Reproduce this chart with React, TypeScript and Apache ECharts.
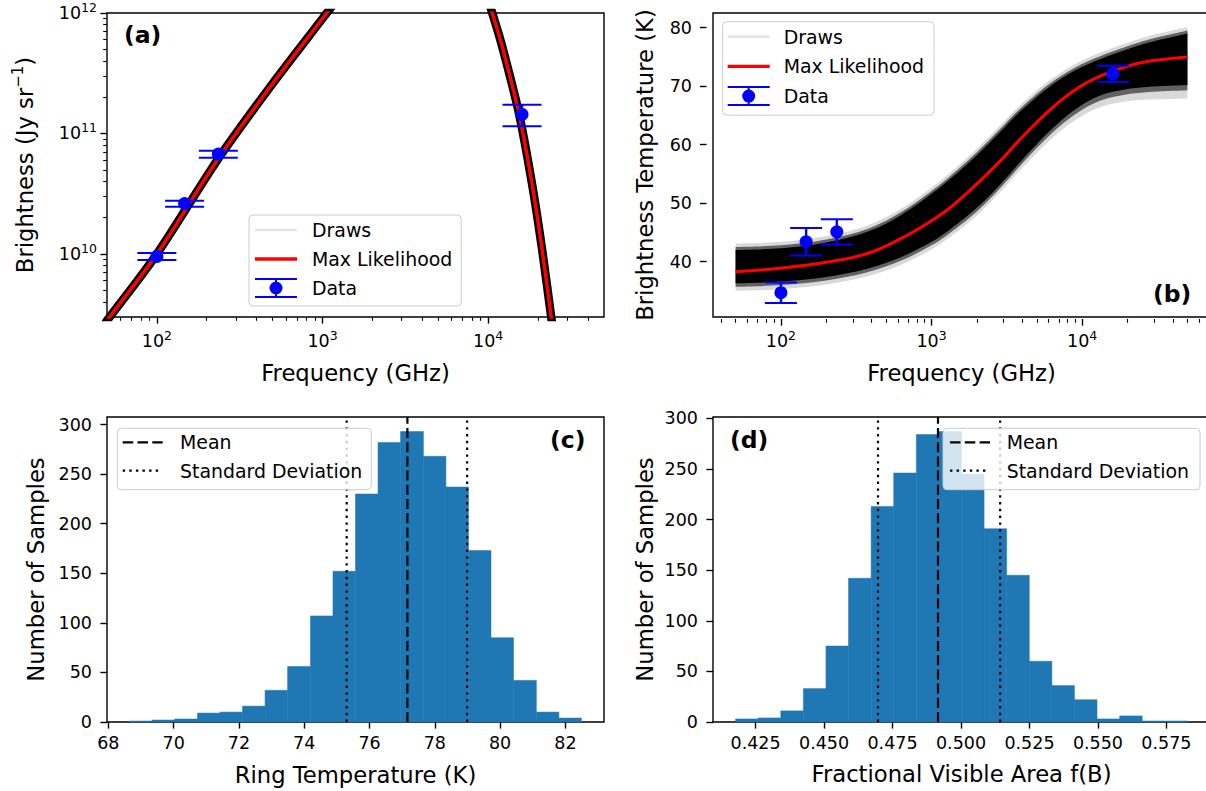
import React, { useEffect, useRef } from "react";
import * as echarts from "echarts";

const FONT = '"DejaVu Sans", "Noto Sans", sans-serif';
const INK = "#000000";
const HIST_BLUE = "#1f77b4";
const DATA_BLUE = "#0000ff";
const ML_RED = "#ff0000";

// ---------- Observations shown in panels (a) and (b) ----------
const obsFreq = [100, 147, 235, 16000];
const obsBrightness = [9.55e9, 2.62e10, 6.75e10, 1.44e11];
const obsBrightnessErr = [6.5e8, 1.5e9, 4.5e9, 2.9e10];
const obsTemp = [34.7, 43.4, 45.1, 72.1];
const obsTempErr = [1.75, 2.35, 2.15, 1.4];

// ---------- (a) max-likelihood spectrum ----------
const mlFreqRise = [45, 50, 100, 235, 500, 1000, 1200];
const mlBrightRise = [2.3e9, 2.8e9, 1.0e10, 6.2e10, 2.6e11, 9.0e11, 1.25e12];
const mlFreqFall = [10000, 10420, 11640, 13000, 15380, 18400, 21000, 24000, 25500];
const mlBrightFall = [1.3e12, 1.07e12, 6.5e11, 3.7e11, 1.44e11, 3.8e10, 1.17e10, 3.0e9, 1.6e9];

// ---------- (b) brightness temperature: max likelihood and spread of draws ----------
const tbFreq = [50, 100, 200, 375, 630, 1000, 1340, 2000, 2860, 4000, 6140, 9000, 13150, 20000, 28200, 50000];
const tbMaxLike = [38.3, 38.9, 39.9, 41.4, 44.0, 47.0, 49.3, 53.3, 57.2, 61.3, 66.0, 69.4, 71.7, 73.4, 74.3, 75.0];
const tbDrawsUpper = [42.0, 42.3, 43.3, 45.1, 48.0, 51.6, 54.2, 58.2, 62.2, 66.0, 70.0, 72.7, 74.6, 76.3, 77.5, 79.0];
const tbDrawsLower = [36.3, 36.6, 37.4, 38.8, 40.8, 43.4, 45.6, 49.2, 53.2, 57.4, 62.4, 66.0, 68.4, 69.5, 69.9, 70.2];
const tbHaloUpper = [42.5, 42.8, 43.8, 45.6, 48.5, 52.1, 54.7, 58.7, 62.7, 66.5, 70.5, 73.2, 75.1, 76.8, 78.0, 79.5];
const tbHaloLower = [35.7, 36.0, 36.8, 38.2, 40.2, 42.8, 45.0, 48.6, 52.6, 56.8, 61.7, 65.2, 67.5, 68.6, 69.0, 69.3];
const tbFaintUpper = [43.1, 43.4, 44.4, 46.2, 49.1, 52.7, 55.3, 59.3, 63.3, 67.1, 71.1, 73.8, 75.7, 77.4, 78.6, 80.1];
const tbFaintLower = [35.0, 35.3, 36.1, 37.5, 39.5, 42.1, 44.3, 47.9, 51.9, 56.0, 60.8, 64.2, 66.4, 67.4, 67.7, 67.9];

// ---------- tick values ----------
const freqMajorTicks = [100, 1000, 10000];
const freqMinorTicksA = [60, 70, 80, 90, 200, 300, 400, 500, 600, 700, 800, 900, 2000, 3000, 4000, 5000, 6000, 7000, 8000, 9000, 20000, 30000, 40000];
const freqMinorTicksB = [40, 50, 60, 70, 80, 90, 200, 300, 400, 500, 600, 700, 800, 900, 2000, 3000, 4000, 5000, 6000, 7000, 8000, 9000, 20000, 30000, 40000, 50000, 60000];
const brightMajorTicks = [1e10, 1e11, 1e12];
const brightMinorTicks = [4e9, 5e9, 6e9, 7e9, 8e9, 9e9, 2e10, 3e10, 4e10, 5e10, 6e10, 7e10, 8e10, 9e10, 2e11, 3e11, 4e11, 5e11, 6e11, 7e11, 8e11, 9e11];
const tempTicks = [40, 50, 60, 70, 80];
const countTicks = [0, 50, 100, 150, 200, 250, 300];

// ---------- (c) ring temperature histogram ----------
const ringTempEdges = [68.65, 69.34, 70.03, 70.73, 71.42, 72.11, 72.8, 73.49, 74.19, 74.88, 75.57, 76.26, 76.95, 77.65, 78.34, 79.03, 79.72, 80.41, 81.11, 81.8, 82.49];
const ringTempCounts = [1, 2, 3, 9, 10, 16, 32, 56, 107, 152, 230, 282, 293, 268, 237, 173, 85, 42, 10, 4];
const ringTempMean = 77.16;
const ringTempStdLines = [75.3, 78.99];
const ringTempTicks = [68, 70, 72, 74, 76, 78, 80, 82];

// ---------- (d) fractional visible area histogram ----------
const areaEdges = [0.4177, 0.42595, 0.4342, 0.44244, 0.45069, 0.45894, 0.46719, 0.47544, 0.48369, 0.49193, 0.50018, 0.50843, 0.51668, 0.52493, 0.53318, 0.54142, 0.54967, 0.55792, 0.56617, 0.57442, 0.58267];
const areaCounts = [3, 4, 11, 33, 75, 142, 213, 246, 284, 287, 245, 191, 145, 60, 36, 22, 3, 6, 1, 1];
const areaMean = 0.4916;
const areaStdLines = [0.4697, 0.5143];
const areaTicks = [0.425, 0.45, 0.475, 0.5, 0.525, 0.55, 0.575];

// ---------- legend icons (bounding box = itemWidth x itemHeight) ----------
const DATA_ICON =
  "path://M0,0H42V2H0Z M0,18H42V20H0Z M20,0H22V20H20Z M27.5,10A6.5,6.5,0,1,1,14.5,10A6.5,6.5,0,1,1,27.5,10Z";
const ML_ICON = "path://M0,0M42,20M0,8.35H42V11.65H0Z";
const DRAWS_ICON = "path://M0,0M42,20M0,8.75H42V11.25H0Z";
const MEAN_ICON = "path://M0,0M40,14M0,5.9H10.5V8.1H0Z M14.8,5.9H25.3V8.1H14.8Z M29.6,5.9H40V8.1H29.6Z";
const STD_ICON =
  "path://M0,0M40,14M0,5.9H2.4V8.1H0Z M6.6,5.9H9V8.1H6.6Z M13.2,5.9H15.6V8.1H13.2Z M19.8,5.9H22.2V8.1H19.8Z M26.4,5.9H28.8V8.1H26.4Z M33,5.9H35.4V8.1H33Z";

const powLabel = (v: number) => `10{sup|${Math.round(Math.log10(v))}}`;
const supRich = {
  sup: { fontSize: 12.5, lineHeight: 13, verticalAlign: "top", fontFamily: FONT, color: INK },
};
const nameStyle = { fontSize: 22.7, fontFamily: FONT, color: INK };
const tickLabel = { fontSize: 17.5, fontFamily: FONT, color: INK };
const majorTick = (values: number[]) => ({
  show: true,
  customValues: values,
  length: 6.6,
  lineStyle: { color: INK, width: 1.4 },
});
const minorTick = (values: number[]) => ({
  show: true,
  customValues: values,
  length: 3.8,
  lineStyle: { color: INK, width: 1.1 },
});
const hidden = { show: false };

// Catmull-Rom through pixel points (points come from the axes via api.coord)
function smoothThrough(pts: number[][], move: boolean) {
  let d = move ? `M${pts[0][0]},${pts[0][1]}` : "";
  for (let i = 0; i < pts.length - 1; i++) {
    const p0 = pts[Math.max(0, i - 1)];
    const p1 = pts[i];
    const p2 = pts[i + 1];
    const p3 = pts[Math.min(pts.length - 1, i + 2)];
    const c1x = p1[0] + (p2[0] - p0[0]) / 6;
    const c1y = p1[1] + (p2[1] - p0[1]) / 6;
    const c2x = p2[0] - (p3[0] - p1[0]) / 6;
    const c2y = p2[1] - (p3[1] - p1[1]) / 6;
    d += `C${c1x},${c1y} ${c2x},${c2y} ${p2[0]},${p2[1]}`;
  }
  return d;
}

function buildOption() {
  const grids = [
    { left: 107, top: 13, width: 497, height: 304 },
    { left: 713, top: 13, width: 497, height: 304 },
    { left: 107, top: 417, width: 497, height: 305 },
    { left: 713, top: 417, width: 497, height: 305 },
  ].map((g) => ({
    ...g,
    show: true,
    borderColor: INK,
    borderWidth: 1.4,
    backgroundColor: "transparent",
    containLabel: false,
    outerBoundsMode: "none",
  }));

  const xAxis: any[] = [
    {
      gridIndex: 0, type: "log", min: 50, max: 50000, position: "bottom",
      axisLine: hidden, splitLine: hidden, axisTick: majorTick(freqMajorTicks),
      axisLabel: { ...tickLabel, customValues: freqMajorTicks, formatter: powLabel, rich: supRich, lineHeight: 24, margin: 12 },
      name: "Frequency (GHz)", nameLocation: "middle", nameGap: 44, nameTextStyle: nameStyle,
    },
    {
      gridIndex: 0, type: "log", min: 50, max: 50000, position: "bottom",
      axisLine: hidden, splitLine: hidden, axisLabel: hidden, axisTick: minorTick(freqMinorTicksA),
    },
    {
      gridIndex: 1, type: "log", min: 35.4, max: 70630, position: "bottom", offset: 2,
      axisLine: hidden, splitLine: hidden, axisTick: majorTick(freqMajorTicks),
      axisLabel: { ...tickLabel, customValues: freqMajorTicks, formatter: powLabel, rich: supRich, lineHeight: 24, margin: 10 },
      name: "Frequency (GHz)", nameLocation: "middle", nameGap: 42, nameTextStyle: nameStyle,
    },
    {
      gridIndex: 1, type: "log", min: 35.4, max: 70630, position: "bottom", offset: 2,
      axisLine: hidden, splitLine: hidden, axisLabel: hidden, axisTick: minorTick(freqMinorTicksB),
    },
    {
      gridIndex: 2, type: "value", min: 67.958, max: 83.182, position: "bottom",
      axisLine: hidden, splitLine: hidden, axisTick: majorTick(ringTempTicks),
      axisLabel: { ...tickLabel, customValues: ringTempTicks, margin: 12 },
      name: "Ring Temperature (K)", nameLocation: "middle", nameGap: 41, nameTextStyle: nameStyle,
    },
    {
      gridIndex: 3, type: "value", min: 0.40945, max: 0.59092, position: "bottom",
      axisLine: hidden, splitLine: hidden, axisTick: majorTick(areaTicks),
      axisLabel: { ...tickLabel, customValues: areaTicks, margin: 12, formatter: (v: number) => v.toFixed(3) },
      name: "Fractional Visible Area f(B)", nameLocation: "middle", nameGap: 40, nameTextStyle: nameStyle,
    },
  ];

  const yAxis: any[] = [
    {
      gridIndex: 0, type: "log", min: 3e9, max: 1e12, position: "left",
      axisLine: hidden, splitLine: hidden, axisTick: majorTick(brightMajorTicks),
      axisLabel: { ...tickLabel, customValues: brightMajorTicks, formatter: powLabel, rich: supRich, lineHeight: 24, margin: 10 },
      name: "Brightness (Jy sr{sup|\u22121})", nameLocation: "middle", nameRotate: 90, nameGap: 67,
      nameTextStyle: {
        ...nameStyle, lineHeight: 30,
        rich: { sup: { fontSize: 15, lineHeight: 15, verticalAlign: "top", fontFamily: FONT, color: INK } },
      },
    },
    {
      gridIndex: 0, type: "log", min: 3e9, max: 1e12, position: "left",
      axisLine: hidden, splitLine: hidden, axisLabel: hidden, axisTick: minorTick(brightMinorTicks),
    },
    {
      gridIndex: 1, type: "value", min: 30.55, max: 82.5, position: "left", offset: 6.5,
      axisLine: hidden, splitLine: hidden, axisTick: majorTick(tempTicks),
      axisLabel: { ...tickLabel, customValues: tempTicks, margin: 14.5 },
      name: "Brightness Temperature (K)", nameLocation: "middle", nameRotate: 90, nameGap: 50, nameTextStyle: nameStyle,
    },
    {
      gridIndex: 2, type: "value", min: 0, max: 307.65, position: "left",
      axisLine: hidden, splitLine: hidden, axisTick: majorTick(countTicks),
      axisLabel: { ...tickLabel, customValues: countTicks, margin: 15 },
      name: "Number of Samples", nameLocation: "middle", nameRotate: 90, nameGap: 59.5, nameTextStyle: nameStyle,
    },
    {
      gridIndex: 3, type: "value", min: 0, max: 301.35, position: "left",
      axisLine: hidden, splitLine: hidden, axisTick: majorTick(countTicks),
      axisLabel: { ...tickLabel, customValues: countTicks, margin: 15 },
      name: "Number of Samples", nameLocation: "middle", nameRotate: 90, nameGap: 57, nameTextStyle: nameStyle,
    },
  ];

  const pairs = (xs: number[], ys: number[]) => xs.map((x, i) => [x, ys[i]]);

  const curve = (name: string, data: number[][], color: string, width: number, z: number) => ({
    type: "line", name, xAxisIndex: 0, yAxisIndex: 0, data, smooth: 0.3, symbol: "none",
    lineStyle: { color, width, cap: "butt" }, itemStyle: { color }, z, silent: true, clip: true,
  });

  const errorBars = (xIdx: number, yIdx: number, vals: number[], errs: number[], capHalf: number) => ({
    type: "custom", name: "Data", xAxisIndex: xIdx, yAxisIndex: yIdx, z: 6, clip: false,
    itemStyle: { color: DATA_BLUE },
    data: obsFreq.map((f, i) => [f, vals[i], errs[i]]),
    encode: { x: 0, y: 1 },
    renderItem: (_p: any, api: any) => {
      const f = api.value(0);
      const v = api.value(1);
      const e = api.value(2);
      const c = api.coord([f, v]);
      const hi = api.coord([f, v + e]);
      const lo = api.coord([f, v - e]);
      const st = { stroke: DATA_BLUE, lineWidth: 2 };
      return {
        type: "group",
        children: [
          { type: "line", shape: { x1: c[0], y1: hi[1], x2: c[0], y2: lo[1] }, style: { ...st, lineWidth: 2.4 } },
          { type: "line", shape: { x1: c[0] - capHalf, y1: hi[1], x2: c[0] + capHalf, y2: hi[1] }, style: st },
          { type: "line", shape: { x1: c[0] - capHalf, y1: lo[1], x2: c[0] + capHalf, y2: lo[1] }, style: st },
          { type: "circle", shape: { cx: c[0], cy: c[1], r: 6.5 }, style: { fill: DATA_BLUE } },
        ],
      };
    },
  });

  // Band of draws in (b): area between a lower and an upper read curve
  const band = (name: string, lower: number[], upper: number[], fill: string) => ({
    type: "custom", name, xAxisIndex: 2, yAxisIndex: 2, z: 2, silent: true, clip: true,
    itemStyle: { color: "#000000" },
    data: tbFreq.map((f, i) => [f, lower[i], upper[i]]),
    encode: { x: 0, y: [1, 2] },
    renderItem: (params: any, api: any) => {
      if (params.dataIndex !== 0) return { type: "group", children: [] };
      const up = tbFreq.map((f, i) => api.coord([f, upper[i]]));
      const lo = tbFreq.map((f, i) => api.coord([f, lower[i]])).reverse();
      const d = smoothThrough(up, true) + `L${lo[0][0]},${lo[0][1]}` + smoothThrough(lo, false) + "Z";
      return { type: "path", shape: { pathData: d }, style: { fill } };
    },
  });

  const hist = (xIdx: number, yIdx: number, edges: number[], counts: number[]) => ({
    type: "custom", name: "histogram", xAxisIndex: xIdx, yAxisIndex: yIdx, z: 1, silent: true,
    data: counts.map((c, i) => [edges[i], edges[i + 1], c]),
    encode: { x: [0, 1], y: 2 },
    renderItem: (_p: any, api: any) => {
      const a = api.coord([api.value(0), api.value(2)]);
      const b = api.coord([api.value(1), 0]);
      return {
        type: "rect",
        shape: { x: a[0], y: a[1], width: b[0] - a[0], height: b[1] - a[1] },
        style: { fill: HIST_BLUE, stroke: HIST_BLUE, lineWidth: 0.5 },
      };
    },
  });

  const vline = (name: string, xIdx: number, yIdx: number, x: number, yMax: number, dash: number[]) => ({
    type: "line", name, xAxisIndex: xIdx, yAxisIndex: yIdx, data: [[x, 0], [x, yMax]], symbol: "none",
    lineStyle: { color: INK, width: 2.2, type: dash, cap: "butt" }, itemStyle: { color: INK }, z: 3, silent: true,
  });

  const series: any[] = [
    // (a)
    curve("Draws", pairs(mlFreqRise, mlBrightRise), "#000000", 8.5, 2),
    curve("Max Likelihood", pairs(mlFreqRise, mlBrightRise), ML_RED, 3.5, 3),
    curve("Draws", pairs(mlFreqFall, mlBrightFall), "#000000", 8.5, 2),
    curve("Max Likelihood", pairs(mlFreqFall, mlBrightFall), ML_RED, 3.5, 3),
    errorBars(0, 0, obsBrightness, obsBrightnessErr, 19.5),
    // (b)
    band("faint draws", tbFaintLower, tbFaintUpper, "rgba(0,0,0,0.15)"),
    band("halo draws", tbHaloLower, tbHaloUpper, "rgba(0,0,0,0.55)"),
    band("Draws", tbDrawsLower, tbDrawsUpper, "#000000"),
    {
      type: "line", name: "Max Likelihood", xAxisIndex: 2, yAxisIndex: 2, data: pairs(tbFreq, tbMaxLike),
      smooth: 0.4, symbol: "none", lineStyle: { color: ML_RED, width: 3 }, itemStyle: { color: ML_RED }, z: 3, silent: true,
    },
    errorBars(2, 2, obsTemp, obsTempErr, 16),
    // (c)
    hist(4, 3, ringTempEdges, ringTempCounts),
    vline("Mean", 4, 3, ringTempMean, 307.65, [10, 4.2]),
    vline("Standard Deviation", 4, 3, ringTempStdLines[0], 307.65, [2.4, 4.4]),
    vline("Standard Deviation", 4, 3, ringTempStdLines[1], 307.65, [2.4, 4.4]),
    // (d)
    hist(5, 4, areaEdges, areaCounts),
    vline("Mean", 5, 4, areaMean, 301.35, [10, 4.2]),
    vline("Standard Deviation", 5, 4, areaStdLines[0], 301.35, [2.4, 4.4]),
    vline("Standard Deviation", 5, 4, areaStdLines[1], 301.35, [2.4, 4.4]),
  ];

  const legendBase = {
    orient: "vertical",
    backgroundColor: "rgba(255,255,255,0.8)",
    borderColor: "#cccccc",
    borderWidth: 1,
    borderRadius: 4,
    selectedMode: false,
  };
  const legendText = (padLeft: number) => ({
    fontSize: 18.9, fontFamily: FONT, color: INK, lineHeight: 22, padding: [0, 0, 0, padLeft],
  });
  const fitLegendData = [
    { name: "Draws", icon: DRAWS_ICON, itemStyle: { color: "#e2e2e2" } },
    { name: "Max Likelihood", icon: ML_ICON, itemStyle: { color: ML_RED } },
    { name: "Data", icon: DATA_ICON, itemStyle: { color: DATA_BLUE } },
  ];
  const statLegendData = [
    { name: "Mean", icon: MEAN_ICON, itemStyle: { color: INK } },
    { name: "Standard Deviation", icon: STD_ICON, itemStyle: { color: INK } },
  ];

  const legend: any[] = [
    {
      ...legendBase, left: 249, top: 215, itemWidth: 42, itemHeight: 20, itemGap: 7,
      padding: [4, 9, 7, 6], textStyle: legendText(10), data: fitLegendData,
    },
    {
      ...legendBase, left: 722.7, top: 21.7, itemWidth: 42, itemHeight: 20, itemGap: 7.7,
      padding: [4, 10, 8, 5], textStyle: legendText(9), data: fitLegendData,
    },
    {
      ...legendBase, left: 117.3, top: 428.3, itemWidth: 40, itemHeight: 14, itemGap: 6.4,
      padding: [3, 9, 8, 5.4], textStyle: legendText(12.3), data: statLegendData,
    },
    {
      ...legendBase, left: 943, top: 428.3, itemWidth: 40, itemHeight: 14, itemGap: 6.4,
      padding: [3, 11, 8, 7], textStyle: legendText(11.7), data: statLegendData,
    },
  ];

  const panelLabel = (text: string, x: number, y: number) => ({
    type: "text", x, y, z: 10,
    style: { text, fontSize: 23.5, fontWeight: "bold", fontFamily: FONT, fill: INK, verticalAlign: "middle", align: "left" },
  });

  return {
    animation: false,
    backgroundColor: "#ffffff",
    textStyle: { fontFamily: FONT },
    grid: grids,
    xAxis,
    yAxis,
    legend,
    series,
    graphic: [
      panelLabel("(a)", 124, 35),
      panelLabel("(b)", 1153, 294),
      panelLabel("(c)", 550, 440),
      panelLabel("(d)", 730, 440),
    ],
  };
}

export default function App() {
  const ref = useRef<HTMLDivElement>(null);
  useEffect(() => {
    if (!ref.current) return;
    const chart = echarts.init(ref.current, null, { renderer: "svg" });
    chart.setOption(buildOption() as any);
    return () => chart.dispose();
  }, []);
  return (
    <div
      ref={ref}
      style={{ position: "fixed", left: 0, top: 0, width: 1206, height: 791, background: "#ffffff", overflow: "hidden" }}
    />
  );
}
